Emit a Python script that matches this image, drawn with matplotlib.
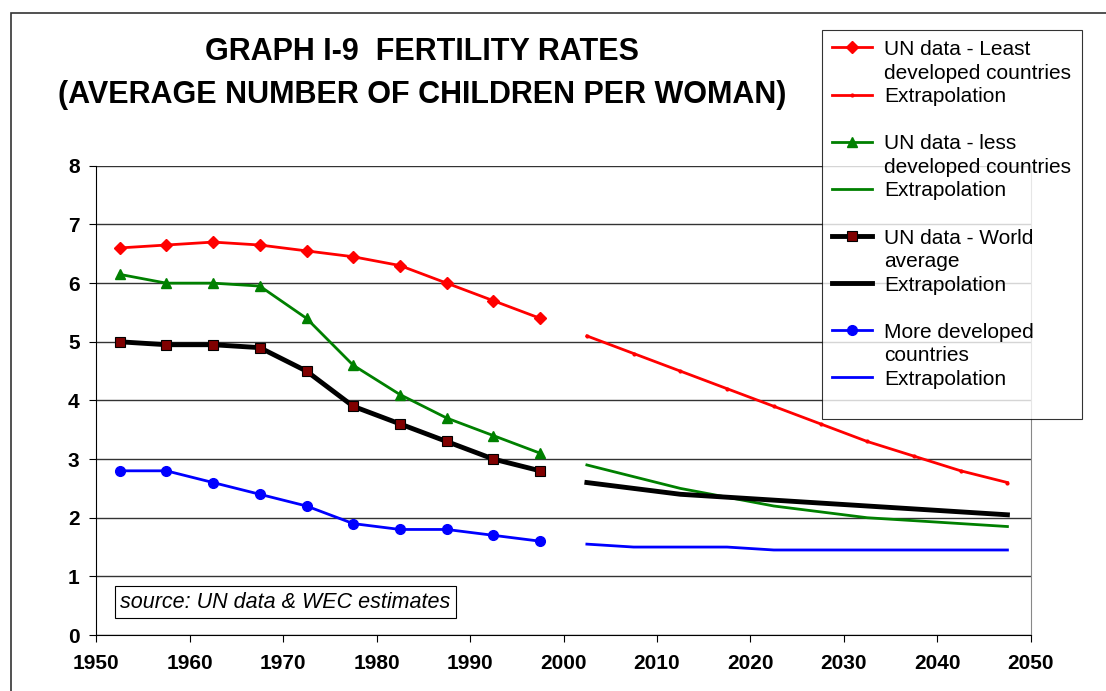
import matplotlib.pyplot as plt
from matplotlib.lines import Line2D
from matplotlib.patches import Rectangle

plt.rcParams['font.family'] = ['Liberation Sans', 'DejaVu Sans']

# five-year mid points
years_un = [1952.5, 1957.5, 1962.5, 1967.5, 1972.5, 1977.5, 1982.5, 1987.5, 1992.5, 1997.5]
years_ex = [2002.5, 2007.5, 2012.5, 2017.5, 2022.5, 2027.5, 2032.5, 2037.5, 2042.5, 2047.5]

least_un = [6.6, 6.65, 6.7, 6.65, 6.55, 6.45, 6.3, 6.0, 5.7, 5.4]
least_ex = [5.1, 4.8, 4.5, 4.2, 3.9, 3.6, 3.3, 3.05, 2.8, 2.6]
less_un = [6.15, 6.0, 6.0, 5.95, 5.4, 4.6, 4.1, 3.7, 3.4, 3.1]
less_ex = [2.9, 2.7, 2.5, 2.35, 2.2, 2.1, 2.0, 1.95, 1.9, 1.85]
world_un = [5.0, 4.95, 4.95, 4.9, 4.5, 3.9, 3.6, 3.3, 3.0, 2.8]
world_ex = [2.6, 2.5, 2.4, 2.35, 2.3, 2.25, 2.2, 2.15, 2.1, 2.05]
more_un = [2.8, 2.8, 2.6, 2.4, 2.2, 1.9, 1.8, 1.8, 1.7, 1.6]
more_ex = [1.55, 1.5, 1.5, 1.5, 1.45, 1.45, 1.45, 1.45, 1.45, 1.45]

fig = plt.figure(figsize=(11.06, 6.91), dpi=100)
ax = fig.add_axes([0.087, 0.081, 0.845, 0.679])

ax.plot(years_un, least_un, color='red', lw=2, marker='D', ms=6, label='UN data - Least\ndeveloped countries')
ax.plot(years_ex, least_ex, color='red', lw=2, marker='.', ms=4, label='Extrapolation')
ax.plot(years_un, less_un, color='green', lw=2, marker='^', ms=7, label='UN data - less\ndeveloped countries')
ax.plot(years_ex, less_ex, color='green', lw=2, label='Extrapolation')
ax.plot(years_un, world_un, color='black', lw=3.5, marker='s', ms=7, mfc='#800000', mec='black', mew=0.8,
        label='UN data - World\naverage')
ax.plot(years_ex, world_ex, color='black', lw=3.5, label='Extrapolation')
ax.plot(years_un, more_un, color='blue', lw=2, marker='o', ms=7, label='More developed\ncountries')
ax.plot(years_ex, more_ex, color='blue', lw=2, label='Extrapolation')

ax.set_xlim(1950, 2050)
ax.set_ylim(0, 8)
ax.set_xticks(range(1950, 2051, 10))
ax.set_yticks(range(0, 9))
ax.grid(axis='y', color='#333333', lw=1)
ax.set_axisbelow(True)
ax.spines['top'].set_visible(False)
ax.spines['right'].set_color('#888888')
ax.tick_params(direction='out', length=5, labelsize=15)
ax.tick_params(axis='y', pad=7)
ax.tick_params(axis='x', pad=9)
for lab in ax.get_xticklabels() + ax.get_yticklabels():
    lab.set_fontweight('bold')

ax.text(0.0256, 0.07, 'source: UN data & WEC estimates', transform=ax.transAxes, fontsize=15.5,
        style='italic', va='center', ha='left',
        bbox=dict(boxstyle='square,pad=0.25', fc='white', ec='black', lw=0.8))

fig.text(0.382, 0.925, 'GRAPH I-9  FERTILITY RATES', ha='center', va='center', fontsize=22, fontweight='bold')
fig.text(0.382, 0.862, '(AVERAGE NUMBER OF CHILDREN PER WOMAN)', ha='center', va='center',
         fontsize=22, fontweight='bold')

# legend with blank spacer rows between groups
h, l = ax.get_legend_handles_labels()
blank = Line2D([], [], color='none')
handles = h[0:2] + [blank] + h[2:4] + [blank] + h[4:6] + [blank] + h[6:8] + [blank]
labels = l[0:2] + [' '] + l[2:4] + [' '] + l[4:6] + [' '] + l[6:8] + [' ']
leg = fig.legend(handles, labels, loc='upper left', bbox_to_anchor=(0.743, 0.957), fontsize=15,
                 frameon=True, fancybox=False, edgecolor='black', handlelength=1.9, handletextpad=0.6,
                 labelspacing=0.22, borderpad=0.5, borderaxespad=0)
leg.get_frame().set_linewidth(0.8)
for t in leg.get_texts():
    t.set_linespacing(1.3)
leg.get_texts()[-1].set_fontsize(9)
# put the line sample next to the first text line, as in the original
for col in leg._legend_handle_box.get_children():
    for item in col.get_children():
        item.align = 'top'

fig.patches.append(Rectangle((0.010, -0.05), 1.2, 1.031, transform=fig.transFigure, fill=False,
                             ec='#333333', lw=1.2))

fig.savefig('out.png', dpi=100)
